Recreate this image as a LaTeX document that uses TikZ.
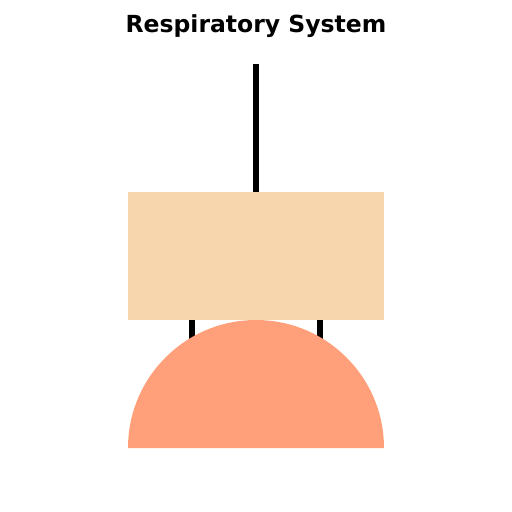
\documentclass[tikz,border=0pt]{standalone}
\usepackage{fontspec}
\setmainfont{DejaVu Sans}
\definecolor{lungwheat}{RGB}{247,214,173}
\definecolor{diaphsalmon}{RGB}{255,160,122}
\begin{document}
\begin{tikzpicture}[x=1pt,y=-1pt,
  tube/.style={line width=6pt,draw=black},
  lungs/.style={fill=lungwheat,draw=none,minimum width=256pt,minimum height=128pt,inner sep=0pt,outer sep=0pt}]
\useasboundingbox (0,0) rectangle (512,512);
\node[anchor=base,font=\bfseries\fontsize{23.5}{28}\selectfont,inner sep=0pt] (title) at (256,32.5) {Respiratory System};
\coordinate (trachea) at (256,64);
\coordinate (bl) at (192,400);
\coordinate (br) at (320,400);
\node[lungs] (box) at (256,256) {};
\draw[tube] (trachea) -- (box.north);
\draw[tube] ([xshift=-64pt]box.south) -- (bl);
\draw[tube] ([xshift=64pt]box.south) -- (br);
\fill[diaphsalmon] (128,448) arc[start angle=180,end angle=0,radius=128pt] -- cycle;
\end{tikzpicture}
\end{document}
